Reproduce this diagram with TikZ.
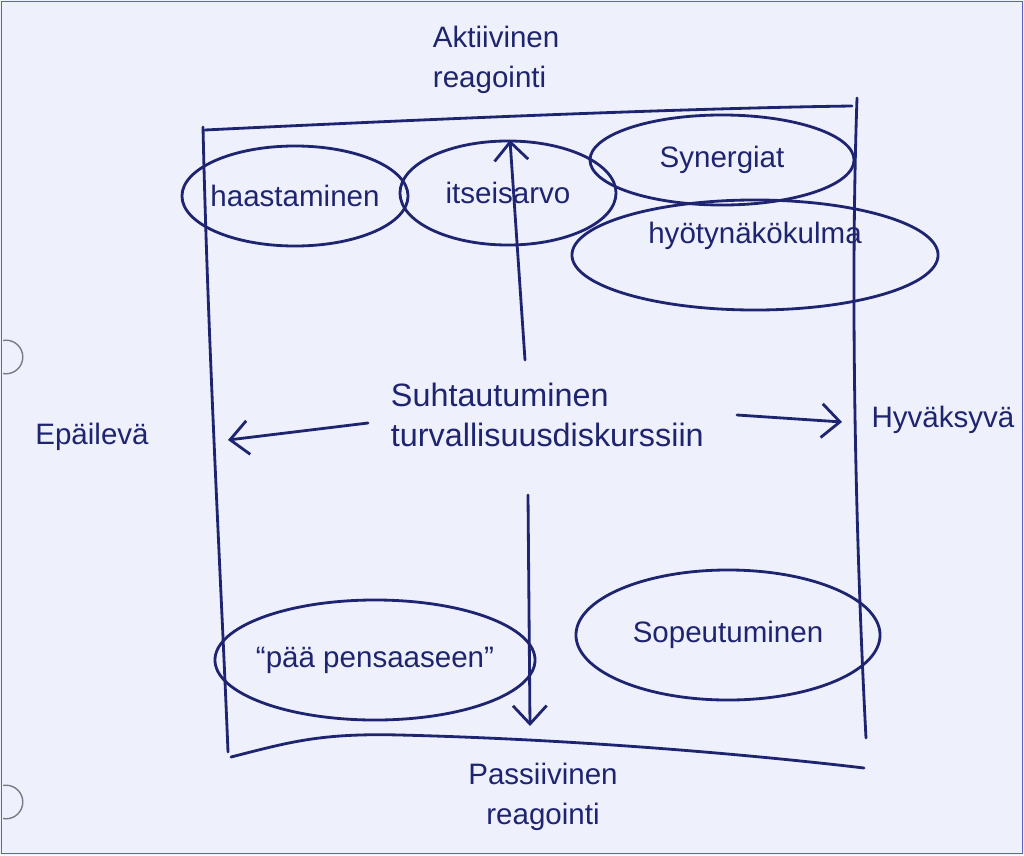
\documentclass[tikz,border=0pt]{standalone}
\usepackage{fontspec}
\setmainfont{Liberation Sans}
\usetikzlibrary{shapes.geometric,arrows.meta}
\definecolor{bgc}{HTML}{EEF0FB}
\definecolor{inkc}{HTML}{1E2470}
\definecolor{bordc}{HTML}{5B62C4}
\definecolor{holec}{HTML}{7A7A8A}
\begin{document}
\begin{tikzpicture}[x=0.025cm,y=-0.025cm,
  ink/.style={draw=inkc,line width=2pt,line cap=round,line join=round},
  hand/.style={text=inkc,font=\fontsize{21}{28}\selectfont},
  oval/.style={ellipse,ink,hand,inner sep=0pt},
  barb/.style={-{Straight Barb[length=13pt,width=24pt,line width=2pt]}}]
\useasboundingbox (0,0) rectangle (1024,855);
\fill[bgc] (0,0) rectangle (1024,855);
\draw[bordc,line width=1.2pt] (1.5,1.5) rectangle (1022.5,853.5);
% punch holes
\begin{scope}
  \clip (3,0) rectangle (40,855);
  \draw[holec,line width=1pt] (6,357) circle[radius=0.42cm];
  \draw[holec,line width=1pt] (6,802) circle[radius=0.42cm];
\end{scope}
% frame
\draw[ink] (205,130) .. controls (450,118) and (700,108) .. (852,106);
\draw[ink] (203,127) .. controls (208,350) and (222,600) .. (228,752);
\draw[ink] (857,98) .. controls (850,300) and (856,550) .. (866,738);
\draw[ink] (231,757) .. controls (290,742) and (320,733) .. (400,735)
                     .. controls (600,740) and (780,758) .. (864,768);
% ellipses
\node[oval,inner xsep=-4pt,minimum width=5.65cm,minimum height=2.5cm] (haast) at (295,196) {haastaminen};
\node[oval,minimum width=5.4cm,minimum height=2.6cm] (itse) at (508,193) {itseisarvo};
\node[oval,minimum width=6.6cm,minimum height=2.25cm] (syn) at (722,160) {Synergiat};
\node[oval,minimum width=9.15cm,minimum height=2.75cm] (hyoty) at (755,255) {\raisebox{1.1cm}{hyötynäkökulma}};
\node[oval,inner xsep=-5pt,minimum width=8cm,minimum height=3cm] (paa) at (375,660) {“pää pensaaseen”};
\node[oval,minimum width=7.6cm,minimum height=3.25cm] (sop) at (728,635) {Sopeutuminen};
% labels
\node[hand,align=left,anchor=west] (akt) at (428,60) {Aktiivinen\\reagointi};
\node[hand,align=center] (pas) at (543,797) {Passiivinen\\reagointi};
\node[hand] (epa) at (92,437) {Epäilevä};
\node[hand] (hyv) at (943,420) {Hyväksyvä};
\node[hand,font=\fontsize{23}{28}\selectfont,align=left,anchor=west] (cnt) at (386,415) {Suhtautuminen\\turvallisuusdiskurssiin};
% arrows
\coordinate (upstart) at (525,360);
\coordinate (upend) at (510,140);
\coordinate (downstart) at (528,495);
\coordinate (downend) at (530,726);
\coordinate (leftstart) at (368,423);
\coordinate (leftend) at (228,440);
\coordinate (rightstart) at (737,415);
\coordinate (rightend) at (842,422);
\draw[ink,barb] (upstart) -- (upend);
\draw[ink,barb] (downstart) -- (downend);
\draw[ink,barb] (leftstart) -- (leftend);
\draw[ink,barb] (rightstart) -- (rightend);
\end{tikzpicture}
\end{document}
